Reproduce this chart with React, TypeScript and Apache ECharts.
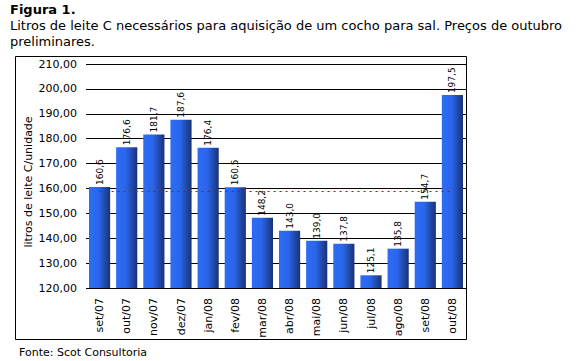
import React, { useEffect, useRef } from "react";
import * as echarts from "echarts";

const categories = ["set/07", "out/07", "nov/07", "dez/07", "jan/08", "fev/08", "mar/08", "abr/08", "mai/08", "jun/08", "jul/08", "ago/08", "set/08", "out/08"];
const values = [160.6, 176.6, 181.7, 187.6, 176.4, 160.5, 148.2, 143.0, 139.0, 137.8, 125.1, 135.8, 154.7, 197.5];
const yTicks = { min: 120, max: 210, interval: 10 };
const titleText = "Figura 1.";
const subtitleLine1 = "Litros de leite C necessários para aquisição de um cocho para sal. Preços de outubro";
const subtitleLine2 = "preliminares.";
const yAxisName = "litros de leite C/unidade";
const sourceText = "Fonte: Scot Consultoria";

const FONT = "DejaVu Sans, Verdana, sans-serif";

export default function App() {
  const ref = useRef<HTMLDivElement>(null);
  useEffect(() => {
    if (!ref.current) return;
    const chart = echarts.init(ref.current, null, { renderer: "svg" });
    const avg = values.reduce((a, b) => a + b, 0) / values.length;
    const fmt = (v: number) => v.toFixed(1).replace(".", ",");
    chart.setOption({
      animation: false,
      backgroundColor: "#ffffff",
      textStyle: { fontFamily: FONT },
      graphic: [
        { type: "text", left: 10, top: 3, style: { text: titleText, font: `bold 13px ${FONT}`, fill: "#000" } },
        { type: "text", left: 10, top: 19, style: { text: subtitleLine1, font: `13px ${FONT}`, fill: "#000" } },
        { type: "text", left: 10, top: 35, style: { text: subtitleLine2, font: `13px ${FONT}`, fill: "#000" } },
        { type: "rect", shape: { x: 15.5, y: 56.5, width: 451, height: 283 }, style: { fill: "none", stroke: "#000", lineWidth: 1 } },
        {
          type: "text",
          x: 28,
          y: 182,
          rotation: Math.PI / 2,
          style: { text: yAxisName, font: `11px ${FONT}`, fill: "#000", textAlign: "center", textVerticalAlign: "middle" },
        },
        { type: "text", left: 19, top: 347, style: { text: sourceText, font: `11px ${FONT}`, fill: "#000" } },
      ],
      grid: { left: 86, right: 117, top: 64, bottom: 73, containLabel: false },
      xAxis: {
        type: "category",
        data: categories,
        axisLine: { show: false },
        axisTick: { show: false },
        axisLabel: { rotate: 90, margin: 10, fontSize: 11, color: "#000", fontFamily: FONT },
      },
      yAxis: {
        type: "value",
        min: yTicks.min,
        max: yTicks.max,
        interval: yTicks.interval,
        axisLine: { show: false },
        axisTick: { show: false },
        axisLabel: { fontSize: 11, color: "#000", margin: 9, fontFamily: FONT, formatter: (v: number) => v.toFixed(2).replace(".", ",") },
        splitLine: { lineStyle: { color: "#000", width: 1 } },
      },
      series: [
        {
          type: "bar",
          data: values,
          barCategoryGap: "22%",
          itemStyle: {
            color: new echarts.graphic.LinearGradient(0, 0, 1, 0, [
              { offset: 0, color: "#2c6cf4" },
              { offset: 0.45, color: "#2a66ec" },
              { offset: 1, color: "#1a3275" },
            ]),
          },
          label: {
            show: true,
            position: "top",
            rotate: 90,
            align: "left",
            verticalAlign: "middle",
            distance: 2,
            fontSize: 9,
            color: "#000",
            fontFamily: FONT,
            formatter: (p: any) => fmt(p.value),
          },
          markLine: {
            silent: true,
            symbol: "none",
            label: { show: false },
            lineStyle: { color: "#e00000", type: [2, 4], width: 1 },
            data: [[{ coord: [0, avg] }, { coord: [categories.length - 1, avg] }]],
          },
          z: 2,
        },
      ],
    });
    return () => chart.dispose();
  }, []);
  return <div ref={ref} style={{ width: 583, height: 361, position: "absolute", left: 0, top: 0 }} />;
}
